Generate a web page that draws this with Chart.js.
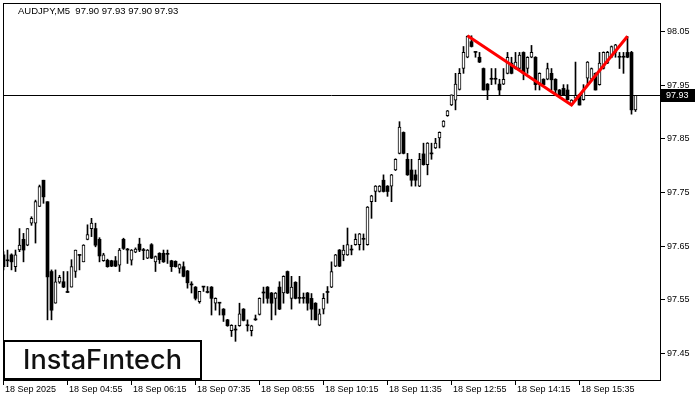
<!DOCTYPE html>
<html>
<head>
<meta charset="utf-8">
<script src="https://cdn.jsdelivr.net/npm/chart.js@4/dist/chart.umd.min.js"></script>
<style>
  html, body { margin: 0; padding: 0; background: #fff; }
  #wrap { width: 700px; height: 400px; }
</style>
</head>
<body>
<div id="wrap"><canvas id="chart" width="700" height="400"></canvas></div>
<script>
// AUDJPY M5 bars, first bar 18 Sep 2025 03:35
const SYMBOL = 'AUDJPY,M5';
const LAST_QUOTE = ['97.90', '97.93', '97.90', '97.93'];
const LAST_PRICE = 97.93;

const OPEN = [
  97.633, 97.622, 97.633, 97.611, 97.642, 97.662, 97.651, 97.692, 97.692, 97.723,
  97.772, 97.732, 97.602, 97.543, 97.582, 97.583, 97.563, 97.573, 97.602, 97.632,
  97.620, 97.662, 97.682, 97.682, 97.662, 97.622, 97.623, 97.622, 97.622, 97.614,
  97.662, 97.642, 97.623, 97.638, 97.653, 97.641, 97.627, 97.652, 97.620, 97.636,
  97.636, 97.634, 97.622, 97.621, 97.608, 97.611, 97.603, 97.577, 97.573, 97.546,
  97.573, 97.563, 97.573, 97.543, 97.543, 97.532, 97.512, 97.492, 97.493, 97.501,
  97.532, 97.501, 97.492, 97.512, 97.522, 97.562, 97.573, 97.562, 97.552, 97.573,
  97.562, 97.602, 97.552, 97.582, 97.552, 97.552, 97.562, 97.552, 97.543, 97.502,
  97.532, 97.563, 97.573, 97.612, 97.642, 97.633, 97.633, 97.642, 97.652, 97.652,
  97.662, 97.652, 97.732, 97.751, 97.751, 97.772, 97.761, 97.761, 97.791, 97.822,
  97.861, 97.811, 97.791, 97.782, 97.761, 97.821, 97.801, 97.821, 97.832, 97.851,
  97.872, 97.892, 97.912, 97.921, 97.941, 97.980, 98.001, 98.030, 98.010, 98.001,
  97.980, 97.951, 97.960, 97.960, 97.951, 97.951, 97.971, 97.990, 97.980, 97.980,
  98.010, 97.980, 98.001, 98.001, 97.950, 97.960, 97.960, 97.971, 97.960, 97.940,
  97.943, 97.940, 97.912, 97.925, 97.931, 97.922, 97.962, 97.960, 97.971, 97.950,
  97.980, 97.990, 98.001, 98.010, 98.001, 98.001, 98.010, 98.010, 97.903
];
const HIGH = [
  97.639, 97.642, 97.635, 97.642, 97.682, 97.673, 97.682, 97.704, 97.735, 97.763,
  97.772, 97.732, 97.605, 97.605, 97.595, 97.602, 97.602, 97.624, 97.642, 97.633,
  97.652, 97.689, 97.701, 97.692, 97.665, 97.636, 97.625, 97.623, 97.630, 97.645,
  97.664, 97.645, 97.643, 97.646, 97.664, 97.645, 97.643, 97.654, 97.631, 97.637,
  97.642, 97.642, 97.623, 97.622, 97.616, 97.620, 97.604, 97.583, 97.574, 97.565,
  97.573, 97.574, 97.574, 97.553, 97.544, 97.533, 97.513, 97.503, 97.502, 97.543,
  97.533, 97.512, 97.502, 97.521, 97.553, 97.573, 97.574, 97.563, 97.563, 97.583,
  97.594, 97.603, 97.593, 97.583, 97.593, 97.562, 97.563, 97.561, 97.544, 97.532,
  97.561, 97.574, 97.620, 97.634, 97.643, 97.651, 97.683, 97.651, 97.672, 97.673,
  97.672, 97.723, 97.744, 97.762, 97.762, 97.782, 97.762, 97.783, 97.812, 97.881,
  97.862, 97.822, 97.811, 97.791, 97.822, 97.841, 97.842, 97.841, 97.850, 97.862,
  97.883, 97.902, 97.931, 97.971, 97.980, 98.021, 98.041, 98.041, 98.011, 98.010,
  97.981, 97.952, 97.980, 97.980, 97.960, 97.980, 98.010, 98.001, 98.010, 98.010,
  98.011, 98.002, 98.023, 98.002, 97.972, 97.961, 97.990, 97.980, 97.961, 97.941,
  97.950, 97.950, 97.922, 97.992, 97.932, 97.950, 97.993, 97.981, 97.972, 98.010,
  98.011, 98.012, 98.022, 98.025, 98.010, 98.010, 98.040, 98.012, 97.930
];
const LOW = [
  97.605, 97.611, 97.605, 97.602, 97.639, 97.620, 97.650, 97.688, 97.655, 97.723,
  97.729, 97.512, 97.512, 97.543, 97.580, 97.572, 97.563, 97.573, 97.591, 97.605,
  97.620, 97.661, 97.667, 97.648, 97.620, 97.621, 97.610, 97.611, 97.611, 97.602,
  97.643, 97.617, 97.614, 97.637, 97.639, 97.624, 97.626, 97.626, 97.602, 97.617,
  97.619, 97.617, 97.602, 97.610, 97.599, 97.592, 97.571, 97.562, 97.549, 97.543,
  97.565, 97.562, 97.521, 97.530, 97.521, 97.509, 97.500, 97.481, 97.472, 97.500,
  97.510, 97.491, 97.482, 97.511, 97.521, 97.543, 97.543, 97.512, 97.521, 97.531,
  97.543, 97.561, 97.532, 97.551, 97.543, 97.543, 97.530, 97.512, 97.512, 97.501,
  97.523, 97.543, 97.572, 97.611, 97.611, 97.622, 97.632, 97.633, 97.651, 97.642,
  97.642, 97.651, 97.701, 97.732, 97.750, 97.750, 97.742, 97.732, 97.790, 97.821,
  97.821, 97.781, 97.761, 97.761, 97.760, 97.800, 97.782, 97.811, 97.831, 97.832,
  97.871, 97.891, 97.911, 97.903, 97.940, 97.971, 98.000, 98.020, 98.001, 97.991,
  97.940, 97.922, 97.950, 97.951, 97.931, 97.950, 97.970, 97.970, 97.979, 97.979,
  97.959, 97.971, 98.000, 97.940, 97.940, 97.950, 97.959, 97.940, 97.931, 97.930,
  97.930, 97.921, 97.911, 97.921, 97.912, 97.921, 97.950, 97.959, 97.940, 97.949,
  97.979, 97.989, 98.000, 98.001, 97.980, 97.971, 98.000, 97.895, 97.900
];
const CLOSE = [
  97.611, 97.622, 97.620, 97.633, 97.651, 97.642, 97.682, 97.701, 97.732, 97.760,
  97.741, 97.592, 97.530, 97.583, 97.591, 97.573, 97.563, 97.611, 97.642, 97.632,
  97.651, 97.671, 97.692, 97.651, 97.631, 97.633, 97.611, 97.612, 97.612, 97.642,
  97.645, 97.642, 97.642, 97.644, 97.642, 97.641, 97.642, 97.627, 97.630, 97.624,
  97.620, 97.634, 97.611, 97.611, 97.615, 97.593, 97.581, 97.577, 97.552, 97.565,
  97.573, 97.563, 97.552, 97.552, 97.543, 97.521, 97.501, 97.502, 97.493, 97.523,
  97.511, 97.501, 97.501, 97.512, 97.552, 97.562, 97.552, 97.543, 97.562, 97.532,
  97.593, 97.562, 97.573, 97.552, 97.552, 97.552, 97.543, 97.532, 97.512, 97.523,
  97.552, 97.563, 97.602, 97.633, 97.612, 97.642, 97.652, 97.642, 97.662, 97.672,
  97.662, 97.722, 97.743, 97.761, 97.761, 97.751, 97.751, 97.782, 97.811, 97.871,
  97.822, 97.782, 97.772, 97.772, 97.811, 97.801, 97.841, 97.821, 97.841, 97.861,
  97.882, 97.901, 97.931, 97.951, 97.971, 98.010, 98.040, 98.021, 98.010, 97.992,
  97.940, 97.940, 97.960, 97.960, 97.940, 97.960, 98.001, 97.971, 97.992, 98.005,
  97.971, 98.001, 98.010, 97.950, 97.971, 97.950, 97.980, 97.959, 97.940, 97.931,
  97.931, 97.922, 97.921, 97.930, 97.912, 97.940, 97.992, 97.980, 97.940, 97.990,
  98.010, 98.010, 98.021, 98.024, 98.001, 98.001, 98.001, 97.903, 97.930
];

const Y_TICKS = [97.45, 97.55, 97.65, 97.75, 97.85, 97.95, 98.05];
const X_TICK_INDEX = [0, 16, 32, 48, 64, 80, 96, 112, 128, 144];
const X_TICK_LABELS = ['18 Sep 2025', '18 Sep 04:55', '18 Sep 06:15', '18 Sep 07:35', '18 Sep 08:55',
  '18 Sep 10:15', '18 Sep 11:35', '18 Sep 12:55', '18 Sep 14:15', '18 Sep 15:35'];

// double top drawn by the pattern tool: peak, trough, peak (bar index, price)
const PATTERN_X = [116, 142, 156];
const PATTERN_Y = [98.041, 97.912, 98.040];

const AXIS_FONT = '9px "Liberation Sans", Arial, sans-serif';

const wicks = [], bearBodies = [], bullBodies = [];
OPEN.forEach((o, i) => {
  const c = CLOSE[i];
  wicks.push({ x: i, y: [LOW[i], HIGH[i]] });
  if (c > o) bullBodies.push({ x: i, y: [o, c] });
  else bearBodies.push({ x: i, y: [c, o] });
});

const frame = {
  id: 'mtFrame',
  beforeDraw(chart) {
    const ctx = chart.ctx;
    ctx.save();
    ctx.fillStyle = '#fff';
    ctx.fillRect(0, 0, chart.width, chart.height);
    ctx.restore();
  },
  beforeDatasetsDraw(chart) {
    const { ctx, chartArea: a, scales: { y } } = chart;
    const py = Math.round(y.getPixelForValue(LAST_PRICE)) + 0.5;
    ctx.save();
    ctx.strokeStyle = '#000';
    ctx.lineWidth = 1;
    ctx.beginPath();
    ctx.moveTo(a.left, py);
    ctx.lineTo(a.right, py);
    ctx.stroke();
    ctx.restore();
  },
  afterDatasetsDraw(chart) {
    const { ctx, chartArea: a, scales: { x, y } } = chart;
    ctx.save();
    ctx.strokeStyle = '#000';
    ctx.lineWidth = 1;
    ctx.strokeRect(a.left + 0.5, a.top + 0.5, a.right - a.left, a.bottom - a.top);

    // price axis
    ctx.font = AXIS_FONT;
    ctx.fillStyle = '#000';
    ctx.textBaseline = 'middle';
    ctx.textAlign = 'left';
    Y_TICKS.forEach(v => {
      const py = Math.round(y.getPixelForValue(v)) + 0.5;
      ctx.beginPath();
      ctx.moveTo(a.right, py);
      ctx.lineTo(a.right + 5, py);
      ctx.stroke();
      ctx.fillText(v.toFixed(2), a.right + 7, py);
    });

    // time axis
    ctx.textBaseline = 'top';
    X_TICK_INDEX.forEach((idx, k) => {
      const px = Math.floor(x.getPixelForValue(idx)) + 0.5;
      ctx.beginPath();
      ctx.moveTo(px, a.bottom);
      ctx.lineTo(px, a.bottom + 5);
      ctx.stroke();
      ctx.fillText(X_TICK_LABELS[k], px + 1.5, a.bottom + 5);
    });

    // last price tag
    const ly = Math.round(y.getPixelForValue(LAST_PRICE));
    ctx.fillStyle = '#000';
    ctx.fillRect(a.right + 1, ly - 6, 34, 13);
    ctx.fillStyle = '#fff';
    ctx.textBaseline = 'middle';
    ctx.fillText(LAST_PRICE.toFixed(2), a.right + 6, ly + 0.5);

    // symbol line
    ctx.fillStyle = '#000';
    ctx.font = '9.5px "Liberation Sans", Arial, sans-serif';
    ctx.fillText(SYMBOL + '  ' + LAST_QUOTE.join(' '), 18, 11.5);

    // logo box
    const bx = 4, by = 341, bw = 197, bh = 38;
    ctx.fillStyle = '#fff';
    ctx.fillRect(bx, by, bw, bh);
    ctx.lineWidth = 2;
    ctx.strokeRect(bx, by, bw, bh);
    const logo = 'InstaF\u0131ntech';
    ctx.font = '500 100px Inter, "Noto Sans", sans-serif';
    const size = 100 * 159 / ctx.measureText(logo).width;
    ctx.font = '500 ' + size.toFixed(1) + 'px Inter, "Noto Sans", sans-serif';
    ctx.fillStyle = '#111';
    ctx.textAlign = 'center';
    ctx.textBaseline = 'middle';
    ctx.fillText(logo, bx + bw / 2, by + bh / 2 + 1);
    ctx.restore();
  }
};

new Chart(document.getElementById('chart'), {
  type: 'bar',
  data: {
    datasets: [
      {
        label: 'double top', type: 'line', order: 1,
        data: PATTERN_X.map((v, k) => ({ x: v, y: PATTERN_Y[k] })),
        borderColor: '#ff0000', borderWidth: 3, pointRadius: 0, tension: 0
      },
      {
        label: 'bull', order: 2, grouped: false, data: bullBodies,
        barThickness: 3, minBarLength: 1, backgroundColor: '#fff',
        borderColor: '#000', borderWidth: 1, borderSkipped: false
      },
      {
        label: 'bear', order: 2, grouped: false, data: bearBodies,
        barThickness: 3, minBarLength: 1, backgroundColor: '#000', borderWidth: 0
      },
      {
        label: 'wick', order: 3, grouped: false, data: wicks,
        barThickness: 1, minBarLength: 1, backgroundColor: '#000', borderWidth: 0
      }
    ]
  },
  options: {
    responsive: false,
    animation: false,
    devicePixelRatio: 1,
    layout: { padding: { left: 3, top: 3, right: 40, bottom: 20 } },
    plugins: { legend: { display: false }, tooltip: { enabled: false } },
    scales: {
      x: { type: 'linear', min: -0.125, max: 164.125, offset: false, display: false },
      y: { min: 97.40, max: 98.102, display: false }
    }
  },
  plugins: [frame]
});
</script>
</body>
</html>
